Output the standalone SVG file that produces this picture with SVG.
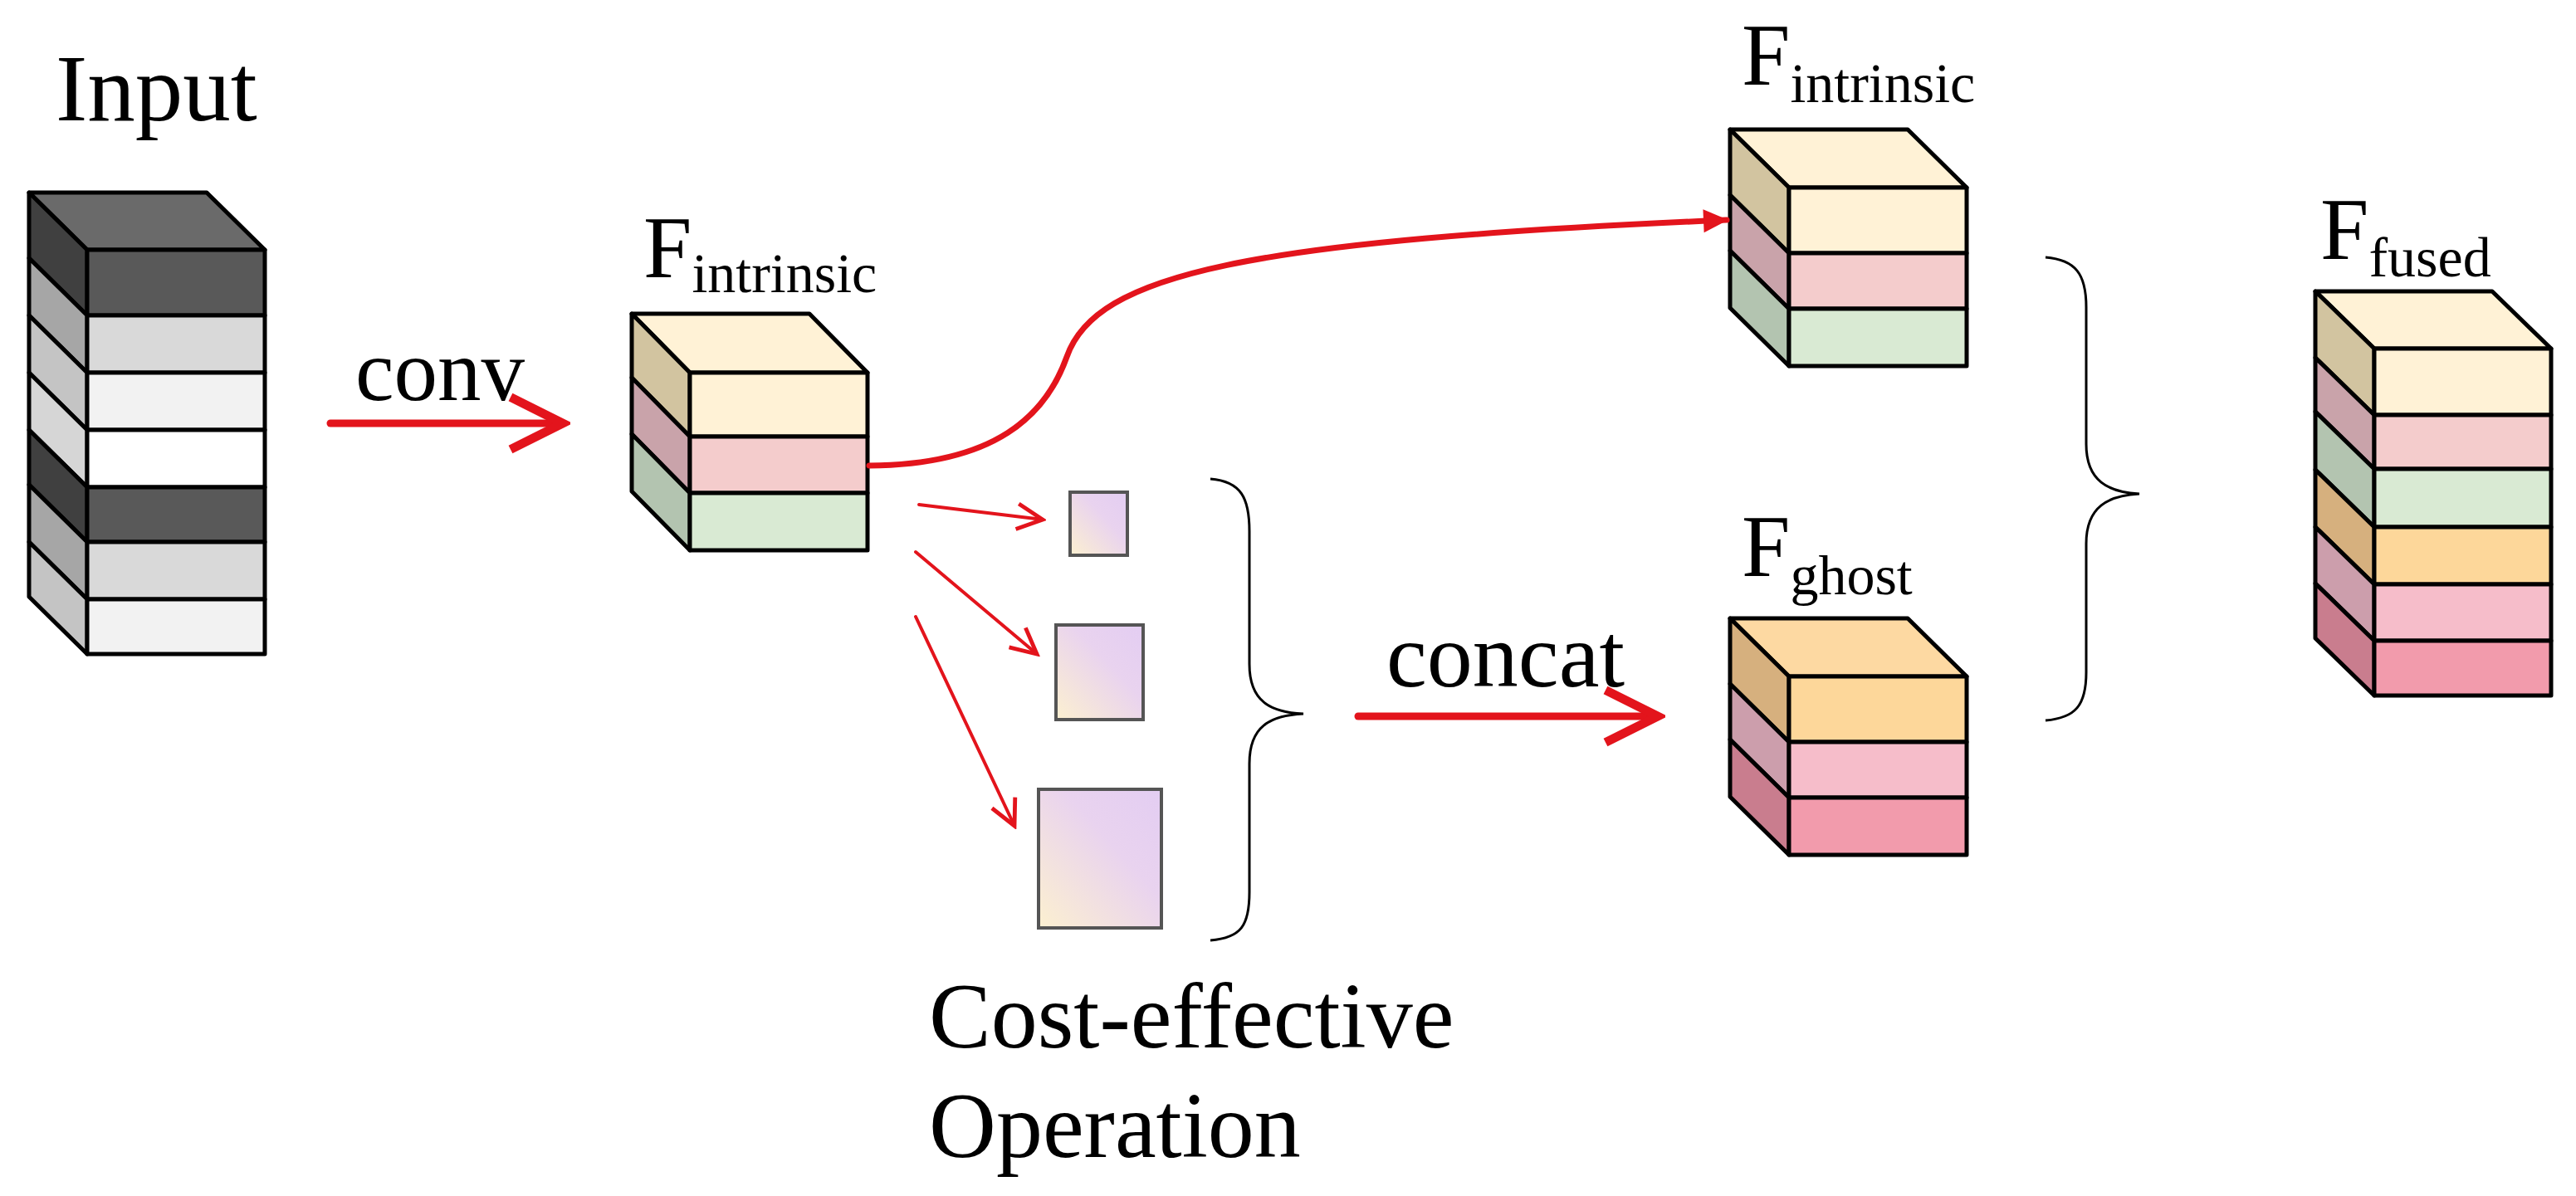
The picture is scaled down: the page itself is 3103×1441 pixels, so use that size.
<svg xmlns="http://www.w3.org/2000/svg" width="3103" height="1441" viewBox="0 0 3103 1441">
<defs>
<style>
.t{font-family:"Liberation Serif","Times New Roman",serif;fill:#000}
.c{stroke:#000;stroke-width:5;stroke-linejoin:round}
.ar{fill:none;stroke:#e3141c;stroke-linecap:round}
.br{fill:none;stroke:#000;stroke-width:3}
.sq{fill:url(#g);stroke:#555;stroke-width:4}
</style>
<linearGradient id="g" x1="0" y1="1" x2="1" y2="0">
<stop offset="0" stop-color="#fcf0d0"/><stop offset="0.6" stop-color="#e9d3ef"/><stop offset="1" stop-color="#e3cdf2"/>
</linearGradient>
<marker id="m" viewBox="0 0 20 20" refX="18" refY="10" markerWidth="8" markerHeight="8" orient="auto" markerUnits="userSpaceOnUse">
<path d="M2,2 L18,10 L2,18" fill="none" stroke="#e3141c" stroke-width="3"/>
</marker>
<marker id="mb" viewBox="0 0 20 20" refX="18" refY="10" markerWidth="10" markerHeight="10" orient="auto">
<path d="M4,3 L18,10 L4,17" fill="none" stroke="#e3141c" stroke-width="2.4"/>
</marker>
<marker id="ms" viewBox="0 0 20 20" refX="18" refY="10" markerWidth="11" markerHeight="11" orient="auto">
<path d="M4,3 L18,10 L4,17" fill="none" stroke="#e3141c" stroke-width="2.2"/>
</marker>
<marker id="mf" viewBox="0 0 20 20" refX="18" refY="10" markerWidth="5" markerHeight="5" orient="auto">
<path d="M2,2 L19,10 L2,18 Z" fill="#e3141c"/>
</marker>
</defs>

<g id="input">
<text class="t" x="67" y="145" font-size="115">Input</text>
<g class="c">
<polygon points="35,232 249,232 319,301 105,301" fill="#6a6a6a"/>
<polygon points="35,232 105,301 105,380 35,311" fill="#404040"/><rect x="105" y="301" width="214" height="79" fill="#595959"/>
<polygon points="35,311 105,380 105,449 35,380" fill="#a6a6a6"/><rect x="105" y="380" width="214" height="69" fill="#d9d9d9"/>
<polygon points="35,380 105,449 105,518 35,449" fill="#c4c4c4"/><rect x="105" y="449" width="214" height="69" fill="#f2f2f2"/>
<polygon points="35,449 105,518 105,587 35,518" fill="#d6d6d6"/><rect x="105" y="518" width="214" height="69" fill="#ffffff"/>
<polygon points="35,518 105,587 105,653 35,584" fill="#404040"/><rect x="105" y="587" width="214" height="66" fill="#595959"/>
<polygon points="35,584 105,653 105,722 35,653" fill="#a6a6a6"/><rect x="105" y="653" width="214" height="69" fill="#d9d9d9"/>
<polygon points="35,653 105,722 105,788 35,719" fill="#c4c4c4"/><rect x="105" y="722" width="214" height="66" fill="#f2f2f2"/>
</g>
</g>

<g id="f_intrinsic_1">
<text class="t" x="775" y="334" font-size="105">F<tspan font-size="68" dy="18">intrinsic</tspan></text>
<g class="c">
<polygon points="761,378 975,378 1045,449 831,449" fill="#fff2d6"/>
<polygon points="761,378 831,449 831,526 761,455" fill="#d2c4a0"/><rect x="831" y="449" width="214" height="77" fill="#fff2d6"/>
<polygon points="761,455 831,526 831,594 761,523" fill="#c9a3aa"/><rect x="831" y="526" width="214" height="68" fill="#f4cccc"/>
<polygon points="761,523 831,594 831,663 761,592" fill="#b3c4b0"/><rect x="831" y="594" width="214" height="69" fill="#d9ead3"/>
</g>
</g>

<g id="ops">
<rect class="sq" x="1289" y="593" width="69" height="76"/>
<rect class="sq" x="1272" y="753" width="105" height="114"/>
<rect class="sq" x="1251" y="951" width="148" height="167"/>
<text class="t" x="1119" y="1262" font-size="112">Cost-effective</text>
<text class="t" x="1119" y="1394" font-size="112">Operation</text>
</g>

<g id="f_intrinsic_2">
<text class="t" x="2098" y="102" font-size="105">F<tspan font-size="68" dy="21">intrinsic</tspan></text>
<g class="c">
<polygon points="2084,156 2298,156 2369,226 2155,226" fill="#fff2d6"/>
<polygon points="2084,156 2155,226 2155,305 2084,235" fill="#d2c4a0"/><rect x="2155" y="226" width="214" height="79" fill="#fff2d6"/>
<polygon points="2084,235 2155,305 2155,372 2084,302" fill="#c9a3aa"/><rect x="2155" y="305" width="214" height="67" fill="#f4cccc"/>
<polygon points="2084,302 2155,372 2155,441 2084,371" fill="#b3c4b0"/><rect x="2155" y="372" width="214" height="69" fill="#d9ead3"/>
</g>
</g>

<g id="f_ghost">
<text class="t" x="2098" y="694" font-size="105">F<tspan font-size="68" dy="22">ghost</tspan></text>
<g class="c">
<polygon points="2084,745 2298,745 2369,815 2155,815" fill="#fdd9a2"/>
<polygon points="2084,745 2155,815 2155,894 2084,824" fill="#d6b07e"/><rect x="2155" y="815" width="214" height="79" fill="#fdd79a"/>
<polygon points="2084,824 2155,894 2155,961 2084,891" fill="#cc9eac"/><rect x="2155" y="894" width="214" height="67" fill="#f6bdca"/>
<polygon points="2084,891 2155,961 2155,1030 2084,960" fill="#c97d8e"/><rect x="2155" y="961" width="214" height="69" fill="#f29bac"/>
</g>
</g>

<g id="f_fused">
<text class="t" x="2795" y="312" font-size="105">F<tspan font-size="68" dy="21">fused</tspan></text>
<g class="c">
<polygon points="2789,351 3002,351 3073,420 2860,420" fill="#fff2d6"/>
<polygon points="2789,351 2860,420 2860,500 2789,431" fill="#d2c4a0"/><rect x="2860" y="420" width="213" height="80" fill="#fff2d6"/>
<polygon points="2789,431 2860,500 2860,565 2789,496" fill="#c9a3aa"/><rect x="2860" y="500" width="213" height="65" fill="#f4cccc"/>
<polygon points="2789,496 2860,565 2860,635 2789,566" fill="#b3c4b0"/><rect x="2860" y="565" width="213" height="70" fill="#d9ead3"/>
<polygon points="2789,566 2860,635 2860,704 2789,635" fill="#d6b07e"/><rect x="2860" y="635" width="213" height="69" fill="#fdd79a"/>
<polygon points="2789,635 2860,704 2860,772 2789,703" fill="#cc9eac"/><rect x="2860" y="704" width="213" height="68" fill="#f6bdca"/>
<polygon points="2789,703 2860,772 2860,838 2789,769" fill="#c97d8e"/><rect x="2860" y="772" width="213" height="66" fill="#f29bac"/>
</g>
</g>

<g id="connectors">
<text class="t" x="428" y="482" font-size="105">conv</text>
<line class="ar" x1="398" y1="510" x2="678" y2="510" stroke-width="9" marker-end="url(#mb)"/>
<path class="ar" d="M1047,561 C1200,560 1260,500 1285,430 C1320,330 1500,290 2080,265" stroke-width="7" marker-end="url(#mf)"/>
<line class="ar" x1="1107" y1="608" x2="1256" y2="626" stroke-width="4" marker-end="url(#ms)"/>
<line class="ar" x1="1103" y1="665" x2="1249" y2="788" stroke-width="4" marker-end="url(#ms)"/>
<line class="ar" x1="1103" y1="743" x2="1222" y2="995" stroke-width="4" marker-end="url(#ms)"/>
<path class="br" d="M1458,577 C1495,580 1505,600 1505,640 L1505,800 C1505,845 1530,858 1570,860 C1530,862 1505,875 1505,920 L1505,1075 C1505,1115 1495,1130 1458,1133"/>
<text class="t" x="1670" y="827" font-size="110">concat</text>
<line class="ar" x1="1636" y1="863" x2="1997" y2="863" stroke-width="9" marker-end="url(#mb)"/>
<path class="br" d="M2464,310 C2500,313 2513,330 2513,370 L2513,535 C2513,580 2540,593 2577,595 C2540,597 2513,610 2513,655 L2513,810 C2513,850 2500,865 2464,868"/>
</g>
</svg>
